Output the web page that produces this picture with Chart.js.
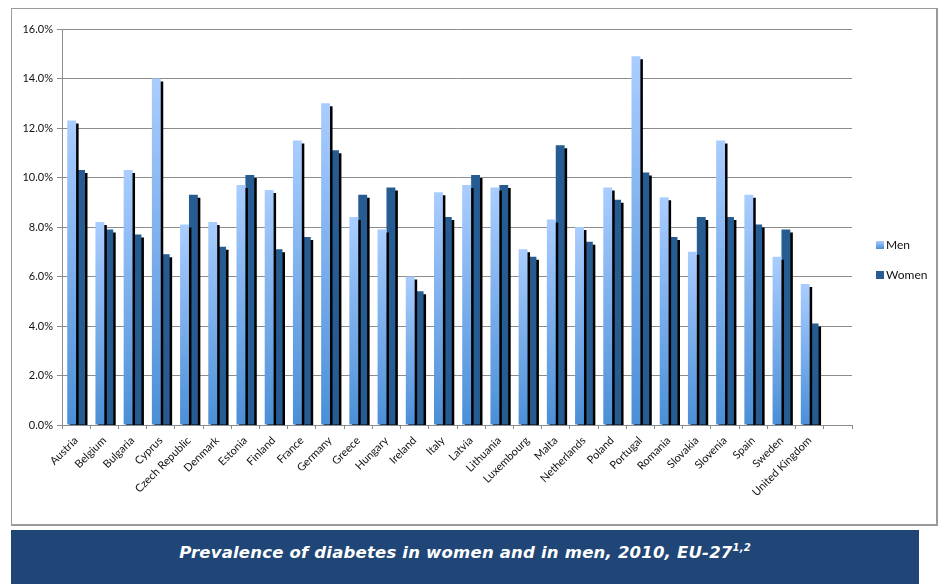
<!DOCTYPE html>
<html>
<head>
<meta charset="utf-8">
<script src="https://cdn.jsdelivr.net/npm/chart.js@4/dist/chart.umd.min.js"></script>
<style>
  html,body{margin:0;padding:0;background:#fff;width:941px;height:584px;overflow:hidden;}
  #frame{position:absolute;left:11px;top:8px;width:927px;height:518px;border:1px solid #9a9a9a;box-sizing:border-box;border-right-width:2px;border-bottom-width:2px;}
  #band{position:absolute;left:11px;top:530px;width:908px;height:54px;background:#1f4677;}
  #title{position:absolute;left:11px;top:543px;width:908px;text-align:center;color:#fff;
    font-family:"DejaVu Sans",sans-serif;font-weight:bold;font-style:italic;font-size:16.5px;letter-spacing:0.2px;}
  #title sup{font-size:10px;vertical-align:7px;line-height:0;}
  #wrap{position:absolute;left:0;top:0;width:941px;height:584px;}
</style>
</head>
<body>
<div id="frame"></div>
<div id="band"></div>
<div id="title">Prevalence of diabetes in women and in men, 2010, EU-27<sup>1,2</sup></div>
<div id="wrap"><canvas id="c" width="941" height="584"></canvas></div>
<script>
const categories = ["Austria","Belgium","Bulgaria","Cyprus","Czech Republic","Denmark","Estonia","Finland","France","Germany","Greece","Hungary","Ireland","Italy","Latvia","Lithuania","Luxembourg","Malta","Netherlands","Poland","Portugal","Romania","Slovakia","Slovenia","Spain","Sweden","United Kingdom",""];
const men   = [12.3, 8.2,10.3,14.0, 8.1, 8.2, 9.7, 9.5,11.5,13.0, 8.4, 7.9, 6.0, 9.4, 9.7, 9.6, 7.1, 8.3, 8.0, 9.6,14.9, 9.2, 7.0,11.5, 9.3, 6.8, 5.7, null];
const women = [10.3, 7.9, 7.7, 6.9, 9.3, 7.2,10.1, 7.1, 7.6,11.1, 9.3, 9.6, 5.4, 8.4,10.1, 9.7, 6.8,11.3, 7.4, 9.1,10.2, 7.6, 8.4, 8.4, 8.1, 7.9, 4.1, null];
const yTicks = [0,2,4,6,8,10,12,14,16];

const MEN_TOP = '#aacdff', MEN_BOT = '#4b8fd7', WOMEN = '#265c91';
const FONT = 'Lato, "Open Sans", sans-serif';

function menColor(ctx){
  const chart = ctx.chart, area = chart.chartArea;
  if(!area || ctx.raw == null) return MEN_BOT;
  const y = chart.scales.y;
  const top = y.getPixelForValue(ctx.raw), bot = y.getPixelForValue(0);
  if(!isFinite(top) || bot - top < 1) return MEN_BOT;
  const g = chart.ctx.createLinearGradient(0, top, 0, bot);
  g.addColorStop(0, MEN_TOP);
  g.addColorStop(1, MEN_BOT);
  return g;
}

const shadowPlugin = {
  id:'shadow',
  beforeDatasetDraw(chart){
    const c = chart.ctx; c.save();
    c.shadowColor = 'rgba(0,0,0,1)'; c.shadowOffsetX = 2.5; c.shadowOffsetY = 3; c.shadowBlur = 0;
  },
  afterDatasetDraw(chart){ chart.ctx.restore(); }
};

const legendPlugin = {
  id:'sideLegend',
  afterDraw(chart){
    const c = chart.ctx; c.save();
    const items = [{label:chart.data.datasets[0].label, y:245, men:true},{label:chart.data.datasets[1].label, y:275, men:false}];
    items.forEach(it=>{
      if(it.men){ const g=c.createLinearGradient(0,it.y-4,0,it.y+4); g.addColorStop(0,MEN_TOP); g.addColorStop(1,MEN_BOT); c.fillStyle=g; }
      else c.fillStyle = WOMEN;
      c.fillRect(876, it.y-4, 8, 8);
      c.fillStyle = '#111'; c.font = '12px ' + FONT; c.textBaseline='middle'; c.textAlign='left';
      c.fillText(it.label, 886, it.y+0.5);
    });
    c.restore();
  }
};

new Chart(document.getElementById('c'), {
  type:'bar',
  data:{
    labels: categories,
    datasets:[
      {label:'Men', data:men, backgroundColor:menColor, borderWidth:0, categoryPercentage:0.63, barPercentage:1.0},
      {label:'Women', data:women, backgroundColor:WOMEN, borderWidth:0, categoryPercentage:0.63, barPercentage:1.0}
    ]
  },
  options:{
    responsive:false, animation:false, devicePixelRatio:1,
    layout:{padding:{left:0, right:89, top:29, bottom:0}},
    plugins:{legend:{display:false}, tooltip:{enabled:false}},
    scales:{
      x:{
        offset:true,
        grid:{display:true, drawOnChartArea:false, drawTicks:true, tickLength:4, color:'#8c8c8c', offset:true},
        border:{display:true, color:'#8c8c8c', width:1},
        ticks:{minRotation:45, maxRotation:45, autoSkip:false, color:'#111', font:{family:FONT, size:11}, padding:5},
        afterFit(s){ s.height = 159; }
      },
      y:{
        min:0, max:16,
        afterBuildTicks(s){ s.ticks = yTicks.map(v=>({value:v})); },
        grid:{color:'#8c8c8c', lineWidth:1, tickLength:5, drawTicks:true},
        border:{display:true, color:'#8c8c8c', width:1},
        ticks:{color:'#111', font:{family:FONT, size:11}, padding:4, callback:v=>v.toFixed(1)+'%'},
        afterFit(s){ s.width = 62; }
      }
    }
  },
  plugins:[shadowPlugin, legendPlugin]
});
</script>
</body>
</html>
